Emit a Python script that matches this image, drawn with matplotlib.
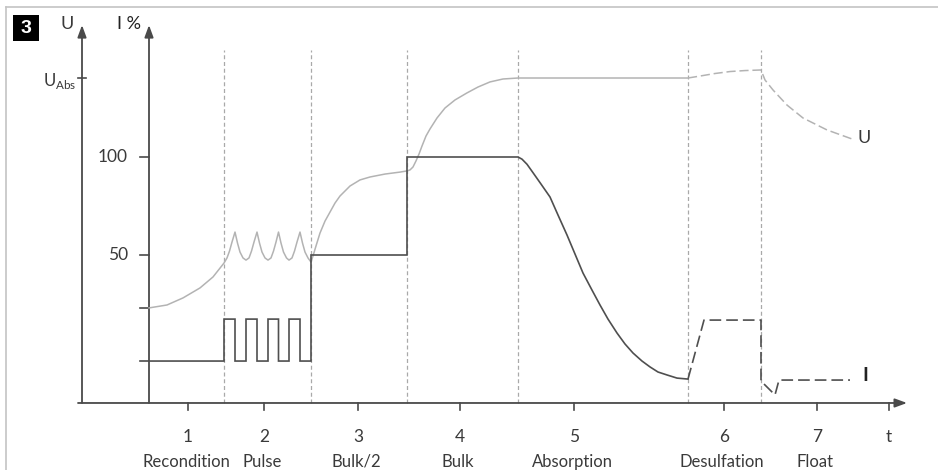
import matplotlib
matplotlib.use('Agg')
import matplotlib.pyplot as plt
from matplotlib.patches import Rectangle
from matplotlib.lines import Line2D

FONT = ['Lato', 'DejaVu Sans']
plt.rcParams['font.family'] = FONT
plt.rcParams['mathtext.fontset'] = 'custom'
plt.rcParams['mathtext.rm'] = 'Lato'

# ---------------- data (time in arbitrary units, level in I % units) -------------
phase_bounds = [7.5, 16.2, 25.8, 36.9, 53.9, 61.2]
phase_ticks = [3.9, 11.5, 20.9, 31.1, 42.5, 57.5, 66.8]
phase_numbers = ['1', '2', '3', '4', '5', '6', '7']
phase_names = ['Recondition', 'Pulse', 'Bulk/2', 'Bulk', 'Absorption', 'Desulfation', 'Float']
time_tick = 74.0

i_ticks = [100, 50, 23.0, -4.1]
i_tick_labels = ['100', '50', '', '']
u_abs_level = 140.3

# Voltage curve, solid part (phases 1-5)
u_solid_t = [0.0, 1.8, 3.4, 5.1, 6.4, 7.5,
             7.8, 8.05, 8.3, 8.6, 8.85, 9.1, 9.4, 9.7,
             10.0, 10.25, 10.5, 10.8, 11.05, 11.3, 11.6, 11.9,
             12.2, 12.45, 12.7, 12.95, 13.2, 13.45, 13.75, 14.0,
             14.3, 14.55, 14.8, 15.1, 15.35, 15.6, 15.9, 16.2,
             16.4, 16.7, 17.1, 17.6, 18.1, 18.6, 19.1, 20.1, 21.1, 22.1, 23.6, 25.1, 25.8,
             26.1, 26.4, 26.7, 27.0, 27.3, 27.7, 28.1, 28.8, 29.6, 30.6, 31.8, 32.9, 34.1, 35.4, 36.9,
             53.9]
u_solid_v = [23.0, 24.5, 28.1, 33.2, 38.8, 45.9,
             48.5, 52.0, 56.6, 61.7, 56.1, 51.5, 48.5, 47.4,
             48.5, 52.0, 56.6, 61.7, 56.1, 51.5, 48.5, 47.4,
             48.5, 52.0, 56.6, 61.7, 56.1, 51.5, 48.5, 47.4,
             48.5, 52.0, 56.6, 61.7, 56.1, 51.5, 48.5, 46.4,
             49.5, 54.6, 61.2, 67.3, 71.9, 76.5, 80.1, 85.2, 88.3, 89.8, 91.3, 92.3, 92.9,
             93.4, 94.9, 98.0, 101.5, 105.6, 110.7, 114.3, 119.9, 125.0, 129.1, 132.7, 135.7, 138.3, 139.8, 140.3,
             140.3]
# Voltage curve, dashed part (phases 6-7)
u_dash_t = [53.9, 55.1, 56.6, 58.1, 59.6, 61.2, 61.6, 62.4, 63.8, 65.4, 67.8, 70.3]
u_dash_v = [140.3, 141.3, 142.6, 143.6, 144.1, 144.4, 139.3, 134.2, 126.5, 119.9, 113.8, 109.2]

# Current curve, solid part (phases 1-5)
i_solid_t = [0.0, 7.5, 7.5, 8.6, 8.6, 9.7, 9.7, 10.8, 10.8, 11.9, 11.9, 12.95, 12.95, 14.0,
             14.0, 15.1, 15.1, 16.2, 16.2, 25.8, 25.8, 36.9,
             37.3, 37.8, 38.4, 39.2, 40.1, 40.9, 41.8, 42.6, 43.4, 44.3, 45.1, 45.9, 46.8, 47.6,
             48.4, 49.3, 50.1, 50.9, 51.8, 52.8, 53.9]
i_solid_v = [-4.1, -4.1, 17.3, 17.3, -4.1, -4.1, 17.3, 17.3, -4.1, -4.1, 17.3, 17.3, -4.1, -4.1,
             17.3, 17.3, -4.1, -4.1, 50.0, 50.0, 100.0, 100.0,
             98.9, 96.3, 92.0, 86.2, 79.6, 70.4, 60.2, 50.5, 40.8, 32.1, 24.5, 17.3, 10.2, 4.6,
             0.0, -4.1, -7.1, -9.7, -11.2, -12.8, -13.3]
# Current curve, dashed part (phases 6-7)
i_dash_t = [53.9, 55.5, 61.2, 61.2, 62.6, 63.0, 70.1]
i_dash_v = [-13.3, 16.8, 16.8, -14.3, -21.4, -13.8, -13.8]

# ---------------- figure -------------
W, H = 938, 470
fig = plt.figure(figsize=(W / 100, H / 100), dpi=100)
ax = fig.add_axes([0, 0, 1, 1])
ax.set_xlim(-14.9, 78.9)
ax.set_ylim(-59.69, 180.10)
ax.axis('off')

AX_COL = '#4a4a4a'
U_COL = '#b3b3b3'
I_COL = '#4f4f4f'
TXT = '#3a3a3a'
FS = 12

base = -25.5     # level of the time axis
top = 167.3      # tip of vertical axes
u_axis_t = -6.7

# frame lines
fig.add_artist(Line2D([6 / W, 1.0], [1 - 7 / H, 1 - 7 / H], transform=fig.transFigure,
                      color='#c4c4c4', lw=1.2))
fig.add_artist(Line2D([6 / W, 6 / W], [0, 1 - 7 / H], transform=fig.transFigure,
                      color='#c4c4c4', lw=1.2))
# badge
fig.add_artist(Rectangle((13 / W, 1 - 41 / H), 26 / W, 26 / H, transform=fig.transFigure,
                         facecolor='black', edgecolor='none'))
fig.text(26 / W, 1 - 28.5 / H, '3', color='white', fontsize=14, fontweight='bold',
         ha='center', va='center', family=['Liberation Sans', 'DejaVu Sans'])

# phase boundaries
for b in phase_bounds:
    ax.plot([b, b], [base, 154.6], color='#a9a9a9', lw=0.9, dashes=(3.2, 2.2), zorder=1)

arrow_kw = dict(arrowstyle='-|>,head_length=0.6,head_width=0.22', color=AX_COL, lw=1.3,
                shrinkA=0, shrinkB=0, mutation_scale=12)
# vertical axes
ax.annotate('', xy=(u_axis_t, top), xytext=(u_axis_t, base), arrowprops=arrow_kw, zorder=3)
ax.annotate('', xy=(0, top), xytext=(0, base), arrowprops=arrow_kw, zorder=3)
# time axis
ax.annotate('', xy=(75.8, base), xytext=(-7.1, base), arrowprops=arrow_kw, zorder=3)

# time ticks and labels
for tk, num, name in zip(phase_ticks, phase_numbers, phase_names):
    ax.plot([tk, tk], [base, base - 3.6], color=AX_COL, lw=1.2)
    ax.text(tk, -42.6, num, ha='center', va='center', fontsize=FS + 0.5, color=TXT)
    ax.text(tk - 0.2, -55.4, name, ha='center', va='center', fontsize=FS, color=TXT)
ax.plot([time_tick, time_tick], [base, base - 3.6], color=AX_COL, lw=1.2)
ax.text(time_tick, -42.6, 't', ha='center', va='center', fontsize=FS + 0.5, color=TXT)

# current ticks
for v, lab in zip(i_ticks, i_tick_labels):
    ax.plot([-0.9, 0], [v, v], color=AX_COL, lw=1.2)
    if lab:
        ax.text(-2.1, v, lab, ha='right', va='center', fontsize=FS + 0.5, color=TXT)
# U_Abs tick
ax.plot([-7.1, -6.3], [u_abs_level, u_abs_level], color=AX_COL, lw=1.2)
ax.text(-7.3, u_abs_level - 1.5, r'U$_{\mathrm{Abs}}$', ha='right', va='center',
        fontsize=FS, color=TXT)

# axis titles
ax.text(-8.2, 167.9, 'U', ha='center', va='center', fontsize=FS + 1, color=TXT)
ax.text(-2.0, 167.9, 'I %', ha='center', va='center', fontsize=FS + 1, color='#222222')

# curves
ax.plot(u_solid_t, u_solid_v, color=U_COL, lw=1.1, zorder=4, solid_joinstyle='round')
ax.plot(u_dash_t, u_dash_v, color=U_COL, lw=1.1, dashes=(6, 2.5), zorder=4)
ax.plot(i_solid_t, i_solid_v, color=I_COL, lw=1.2, zorder=5, solid_joinstyle='miter')
ax.plot(i_dash_t, i_dash_v, color=I_COL, lw=1.2, dashes=(7, 3), zorder=5)

# curve labels
ax.text(71.5, 109.7, 'U', ha='center', va='center', fontsize=FS + 1, color=TXT)
ax.text(71.6, -11.5, 'I', ha='center', va='center', fontsize=14, fontweight='bold', color='#222222')

fig.savefig('out.png', dpi=100)
